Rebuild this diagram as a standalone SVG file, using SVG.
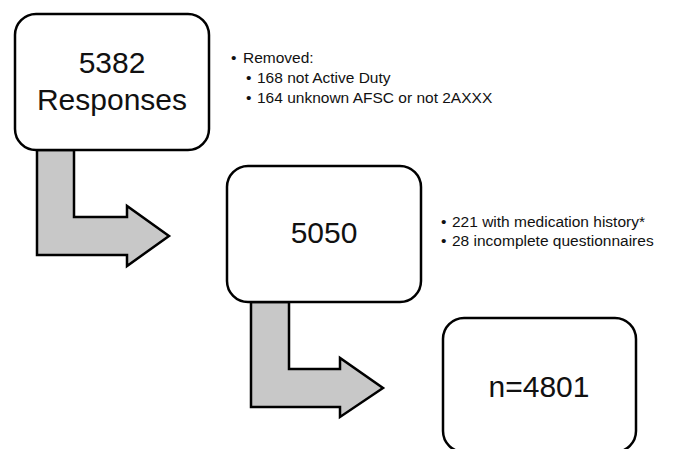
<svg xmlns="http://www.w3.org/2000/svg" width="679" height="449" viewBox="0 0 679 449">
<style>
.box{fill:#fff;stroke:#000;stroke-width:2.5}
.arrow{fill:#c8c8c8;stroke:#000;stroke-width:2.5;stroke-linejoin:miter}
.big{font-family:"Liberation Sans",Arial,sans-serif;font-size:30px;fill:#111;text-anchor:middle}
.small{font-family:"Liberation Sans",Arial,sans-serif;font-size:15.5px;fill:#111}
</style>
<rect width="679" height="449" fill="#fff"/>
<g id="connectors">
<path class="arrow" d="M37,150 V255 H127 V266 L169,236 L127,206 V217 H74 V150 Z"/>
<path class="arrow" d="M251,302 V407 H340 V417 L383,388 L340,358 V369 H289 V302 Z"/>
</g>
<g id="node1">
<rect class="box" x="15" y="14" width="194" height="136" rx="21"/>
<text class="big" x="112" y="73">5382</text>
<text class="big" x="112" y="110">Responses</text>
</g>
<g id="node2">
<rect class="box" x="227" y="166" width="194" height="136" rx="21"/>
<text class="big" x="324" y="243">5050</text>
</g>
<g id="node3">
<rect class="box" x="443" y="318" width="193" height="134" rx="21"/>
<text class="big" x="539" y="397">n=4801</text>
</g>
<g id="notes1">
<text class="small" x="231" y="63">•</text>
<text class="small" x="243" y="63">Removed:</text>
<text class="small" x="246" y="83">•</text>
<text class="small" x="257" y="83">168 not Active Duty</text>
<text class="small" x="246" y="103">•</text>
<text class="small" x="257" y="103">164 unknown AFSC or not 2AXXX</text>
</g>
<g id="notes2">
<text class="small" x="441" y="227">•</text>
<text class="small" x="452" y="227">221 with medication history*</text>
<text class="small" x="441" y="246">•</text>
<text class="small" x="452" y="246">28 incomplete questionnaires</text>
</g>
</svg>
